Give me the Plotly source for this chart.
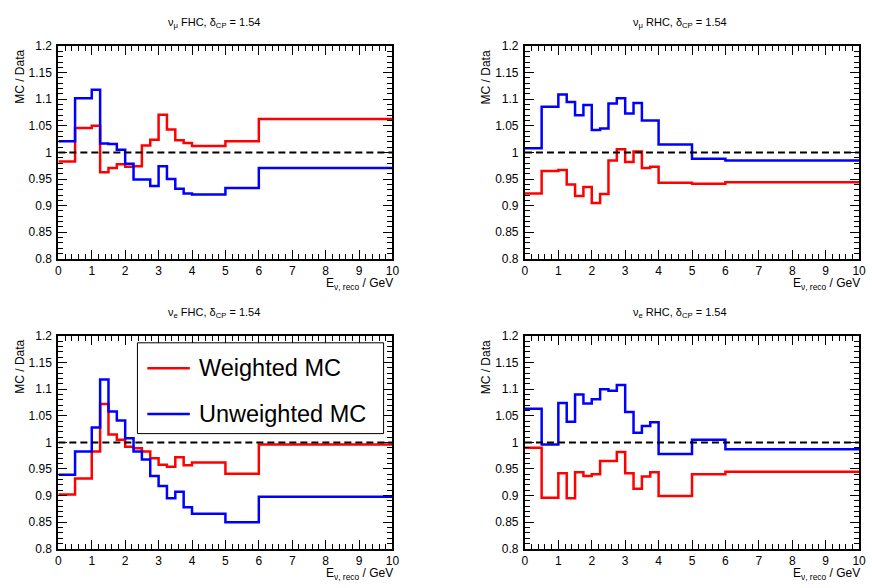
import plotly.graph_objects as go

# bin edges (GeV)
edges = [0, 0.5, 1, 1.25, 1.5, 1.75, 2, 2.25, 2.5, 2.75, 3, 3.25, 3.5, 3.75, 4, 5, 6, 10]

titles = ["ν<sub>μ</sub> FHC, δ<sub>CP</sub> = 1.54",
          "ν<sub>μ</sub> RHC, δ<sub>CP</sub> = 1.54",
          "ν<sub>e</sub> FHC, δ<sub>CP</sub> = 1.54",
          "ν<sub>e</sub> RHC, δ<sub>CP</sub> = 1.54"]

numu_fhc_weighted = [0.983, 1.046, 1.050, 0.963, 0.971, 0.978, 0.973, 0.974, 1.013, 1.024,
                     1.071, 1.043, 1.023, 1.018, 1.012, 1.021, 1.063]
numu_fhc_unweighted = [1.021, 1.102, 1.118, 1.017, 1.016, 1.005, 0.979, 0.949, 0.949, 0.937,
                       0.974, 0.950, 0.932, 0.923, 0.921, 0.933, 0.971]

numu_rhc_weighted = [0.923, 0.965, 0.967, 0.940, 0.918, 0.935, 0.905, 0.922, 0.985, 1.006,
                     0.982, 1.002, 0.971, 0.973, 0.943, 0.941, 0.944]
numu_rhc_unweighted = [1.008, 1.086, 1.109, 1.095, 1.070, 1.089, 1.042, 1.045, 1.092, 1.102,
                       1.073, 1.093, 1.060, 1.060, 1.015, 0.988, 0.985]

nue_fhc_weighted = [0.902, 0.932, 0.983, 1.072, 1.015, 1.005, 0.992, 0.989, 0.983, 0.970,
                    0.958, 0.954, 0.972, 0.957, 0.962, 0.941, 0.996]
nue_fhc_unweighted = [0.939, 0.983, 1.028, 1.118, 1.058, 1.041, 1.008, 0.983, 0.968, 0.937,
                      0.918, 0.895, 0.907, 0.878, 0.866, 0.850, 0.898]

nue_rhc_weighted = [0.990, 0.896, 0.942, 0.895, 0.944, 0.937, 0.940, 0.965, 0.965, 0.982,
                    0.942, 0.913, 0.936, 0.944, 0.899, 0.940, 0.945]
nue_rhc_unweighted = [1.063, 0.996, 1.074, 1.039, 1.090, 1.073, 1.081, 1.100, 1.097, 1.108,
                      1.057, 1.018, 1.031, 1.038, 0.978, 1.005, 0.987]

weighted = [numu_fhc_weighted, numu_rhc_weighted, nue_fhc_weighted, nue_rhc_weighted]
unweighted = [numu_fhc_unweighted, numu_rhc_unweighted, nue_fhc_unweighted, nue_rhc_unweighted]

y_tickvals = [0.8, 0.85, 0.9, 0.95, 1.0, 1.05, 1.1, 1.15, 1.2]
y_ticktext = ["0.8", "0.85", "0.9", "0.95", "1", "1.05", "1.1", "1.15", "1.2"]
x_tickvals = [0, 1, 2, 3, 4, 5, 6, 7, 8, 9, 10]
x_ticktext = [str(v) for v in x_tickvals]

series_names = ["Weighted MC", "Unweighted MC"]
colors = ["#ff0000", "#0000ff"]

W, H = 872, 588
FONT = "Liberation Sans, Arial, Helvetica, sans-serif"

# panel plot areas in pixels: (left, right, top, bottom)
panels = [(56, 394, 40, 258), (528, 866, 40, 258),
          (56, 394, 337, 555), (528, 866, 337, 555)]

fig = go.Figure()
layout = dict(width=W, height=H, margin=dict(l=0, r=0, t=0, b=0),
              plot_bgcolor="white", paper_bgcolor="white", showlegend=False,
              font=dict(family=FONT, size=11, color="black"))
annotations = []
shapes = []

for i, (l, r, t, b) in enumerate(panels):
    n = "" if i == 0 else str(i + 1)
    xa, ya = "x" + n, "y" + n
    xdom = [l / W, r / W]
    ydom = [1 - b / H, 1 - t / H]
    layout["xaxis" + n] = dict(domain=xdom, anchor=ya, range=[0, 10],
                               tickvals=x_tickvals, ticktext=x_ticktext,
                               ticks="inside", ticklen=9, tickwidth=1, tickcolor="black",
                               minor=dict(ticks="inside", dtick=0.2, ticklen=5, tickwidth=1, tickcolor="black"),
                               showline=True, linecolor="black", linewidth=2, mirror="ticks",
                               showgrid=False, zeroline=False, ticklabelstandoff=0,
                               tickfont=dict(family=FONT, size=12, color="black"))
    layout["yaxis" + n] = dict(domain=ydom, anchor=xa, range=[0.8, 1.2],
                               tickvals=y_tickvals, ticktext=y_ticktext,
                               ticks="inside", ticklen=9, tickwidth=1, tickcolor="black",
                               minor=dict(ticks="inside", dtick=0.01, ticklen=5, tickwidth=1, tickcolor="black"),
                               showline=True, linecolor="black", linewidth=2, mirror="ticks",
                               showgrid=False, zeroline=False, ticklabelstandoff=2,
                               tickfont=dict(family=FONT, size=12, color="black"))
    for vals, name, col in ((weighted[i], series_names[0], colors[0]),
                            (unweighted[i], series_names[1], colors[1])):
        fig.add_trace(go.Scatter(x=edges, y=list(vals) + [vals[-1]], mode="lines",
                                 line=dict(color=col, width=2.5, shape="hv"),
                                 name=name, xaxis=xa, yaxis=ya))
    # reference line at 1
    fig.add_trace(go.Scatter(x=[0, 10], y=[1, 1], mode="lines",
                             line=dict(color="black", width=2, dash="7px,4px"),
                             xaxis=xa, yaxis=ya, hoverinfo="skip"))
    # panel title
    annotations.append(dict(text=titles[i], x=((l + r) / 2 - 12) / W, y=1 - (t - 24) / H,
                            xref="paper", yref="paper", xanchor="center", yanchor="middle",
                            showarrow=False, font=dict(family=FONT, size=11, color="black")))
    # y title
    annotations.append(dict(text="MC / Data", x=(l - 39) / W, y=1 - (t + 2) / H,
                            xref="paper", yref="paper", xanchor="center", yanchor="top",
                            textangle=-90, showarrow=False,
                            font=dict(family=FONT, size=12, color="black")))
    # x title
    annotations.append(dict(text="E<sub>ν, reco</sub> / GeV", x=(r + 3) / W, y=1 - (b + 26) / H,
                            xref="paper", yref="paper", xanchor="right", yanchor="middle",
                            showarrow=False, font=dict(family=FONT, size=12, color="black")))

# legend box in third panel
lx0, lx1, ly0, ly1 = 136, 385, 344, 437
shapes.append(dict(type="rect", xref="paper", yref="paper",
                   x0=lx0 / W, x1=lx1 / W, y0=1 - ly1 / H, y1=1 - ly0 / H,
                   line=dict(color="black", width=1), fillcolor="white", layer="above"))
for k, (name, col) in enumerate(zip(series_names, colors)):
    yy = 370 + k * 47
    shapes.append(dict(type="line", xref="paper", yref="paper",
                       x0=146 / W, x1=189 / W, y0=1 - yy / H, y1=1 - yy / H,
                       line=dict(color=col, width=2.5), layer="above"))
    annotations.append(dict(text=name, x=196 / W, y=1 - yy / H, xref="paper", yref="paper",
                            xanchor="left", yanchor="middle", showarrow=False,
                            font=dict(family=FONT, size=23.5, color="black")))

layout["annotations"] = annotations
layout["shapes"] = shapes
fig.update_layout(**layout)
fig.write_html("out.html", config={"displayModeBar": False},
               post_script="document.body.style.margin='0px';document.body.style.overflow='hidden';")
